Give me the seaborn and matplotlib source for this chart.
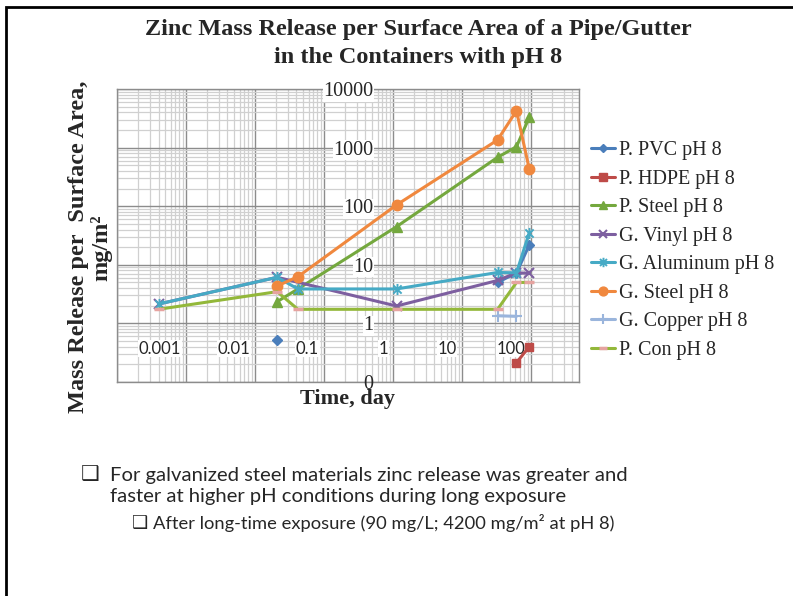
import numpy as np
import pandas as pd
import matplotlib
matplotlib.use("Agg")
import matplotlib.pyplot as plt
import seaborn as sns
from matplotlib.lines import Line2D
from matplotlib.patches import Rectangle
from matplotlib.path import Path
from matplotlib.ticker import FixedLocator, FixedFormatter, LogLocator, NullFormatter, NullLocator
from matplotlib.transforms import ScaledTranslation

# ---------------- data ----------------
series_names = ["P. PVC pH 8", "P. HDPE pH 8", "P. Steel pH 8", "G. Vinyl pH 8",
                "G. Aluminum pH 8", "G. Steel pH 8", "G. Copper pH 8", "P. Con pH 8"]

t_pvc = [0.021, 0.042, 33, 62, 95]
v_pvc = [0.52, None, 5.0, 7.3, 21.8]

t_hdpe = [62, 95]
v_hdpe = [0.214, 0.40]

t_psteel = [0.021, 0.042, 1.13, 33, 62, 95]
v_psteel = [2.35, 3.87, 44.7, 683, 1035, 3290]

t_vinyl = [0.0004, 0.021, 1.13, 33, 62, 95]
v_vinyl = [2.14, 6.12, 1.98, 5.4, 7.3, 7.16]

t_alum = [0.0004, 0.021, 0.042, 1.13, 33, 62, 95]
v_alum = [2.14, 6.12, 3.87, 3.87, 7.4, 7.3, 35.3]

t_gsteel = [0.021, 0.042, 1.13, 33, 62, 95]
v_gsteel = [4.35, 6.27, 105, 1350, 4260, 431]

t_copper = [33, 62]
v_copper = [1.35, 1.32]

t_pcon = [0.0004, 0.021, 0.042, 1.13, 33, 62, 95]
v_pcon = [1.74, 3.48, 1.74, 1.74, 1.74, 5.0, 5.0]

x_ticks = [0.001, 0.01, 0.1, 1, 10, 100]
x_tick_labels = ["0.001", "0.01", "0.1", "1", "10", "100"]
y_ticks = [0.1, 1, 10, 100, 1000, 10000]
y_tick_labels = ["0", "1", "10", "100", "1000", "10000"]

title_text = "Zinc Mass Release per Surface Area of a Pipe/Gutter\nin the Containers with pH 8"
x_label = "Time, day"
y_label = "Mass Release per  Surface Area,\nmg/m\u00b2"
bullet1 = "For galvanized steel materials zinc release was greater and\nfaster at higher pH conditions during long exposure"
bullet2 = "After long-time exposure (90 mg/L; 4200 mg/m\u00b2 at pH 8)"

# ---------------- style ----------------
sns.set_style("white")
plt.rcParams["font.family"] = ["Liberation Serif", "DejaVu Serif"]

star = Path([(-1, -1), (1, 1), (-1, 1), (1, -1), (0, -1.35), (0, 1.35)],
            [Path.MOVETO, Path.LINETO] * 3)

styles = {
    "P. PVC pH 8":      dict(color="#4a7ebb", marker="D", ms=5.0, mfc="#4a7ebb", mec="#4a7ebb", mew=1.0),
    "P. HDPE pH 8":     dict(color="#be4b48", marker="s", ms=6.0, mfc="#be4b48", mec="#be4b48", mew=1.0),
    "P. Steel pH 8":    dict(color="#74a83e", marker="^", ms=7.0, mfc="#74a83e", mec="#74a83e", mew=1.0),
    "G. Vinyl pH 8":    dict(color="#7d5fa0", marker="x", ms=6.5, mfc="none", mec="#7d5fa0", mew=1.5),
    "G. Aluminum pH 8": dict(color="#46aac5", marker=star, ms=8.0, mfc="none", mec="#46aac5", mew=1.4),
    "G. Steel pH 8":    dict(color="#f0883e", marker="o", ms=7.5, mfc="#f0883e", mec="#f0883e", mew=1.0),
    "G. Copper pH 8":   dict(color="#9ab5dc", marker="+", ms=8.0, mfc="none", mec="#9ab5dc", mew=1.5),
    "P. Con pH 8":      dict(color="#93b83a", marker="_", ms=6.5, mfc="none", mec="#e6a3a0", mew=2.5),
}

data = {
    "P. PVC pH 8": (t_pvc, v_pvc),
    "P. HDPE pH 8": (t_hdpe, v_hdpe),
    "P. Steel pH 8": (t_psteel, v_psteel),
    "G. Vinyl pH 8": (t_vinyl, v_vinyl),
    "G. Aluminum pH 8": (t_alum, v_alum),
    "G. Steel pH 8": (t_gsteel, v_gsteel),
    "G. Copper pH 8": (t_copper, v_copper),
    "P. Con pH 8": (t_pcon, v_pcon),
}

W, H = 793, 596
fig = plt.figure(figsize=(W / 100, H / 100), dpi=100)
fig.patch.set_facecolor("white")

L, R, T, B = 117, 579, 89, 382
rect = [L / W, 1 - B / H, (R - L) / W, (B - T) / H]

XLIM = (1e-4, 500)
YLIM = (0.1, 1e4)

# background axes: grid only
gax = fig.add_axes(rect, zorder=0)
gax.set_xscale("log")
gax.set_yscale("log")
gax.set_xlim(*XLIM)
gax.set_ylim(*YLIM)
for axis in (gax.xaxis, gax.yaxis):
    axis.set_major_locator(LogLocator(base=10, numticks=60))
    axis.set_minor_locator(LogLocator(base=10, subs=np.arange(2, 10), numticks=60))
    axis.set_major_formatter(NullFormatter())
    axis.set_minor_formatter(NullFormatter())
gax.grid(which="minor", color="#d0d0d0", lw=0.9)
gax.grid(which="major", color="#8c8c8c", lw=1.0)
gax.tick_params(which="both", length=0)
for s in gax.spines.values():
    s.set_color("#8c8c8c")
    s.set_linewidth(1.0)

# main axes: data and tick labels
ax = fig.add_axes(rect, zorder=1)
ax.patch.set_alpha(0)
ax.set_xscale("log")
ax.set_yscale("log")

for name in series_names:
    t, v = data[name]
    st = styles[name]
    df = pd.DataFrame({"t": t, "v": pd.to_numeric(pd.Series(v, dtype="float"))})
    df["seg"] = df["v"].isna().cumsum()
    df = df.dropna()
    sns.lineplot(data=df, x="t", y="v", units="seg", estimator=None, sort=False,
                 color=st["color"], lw=2.2, marker=st["marker"], markersize=st["ms"],
                 markerfacecolor=st["mfc"], markeredgecolor=st["mec"],
                 markeredgewidth=st["mew"], ax=ax, legend=False, zorder=3)

ax.set_xlim(*XLIM)
ax.set_ylim(*YLIM)

ax.xaxis.set_major_locator(FixedLocator(x_ticks))
ax.xaxis.set_major_formatter(FixedFormatter(x_tick_labels))
ax.xaxis.set_minor_locator(NullLocator())
ax.yaxis.set_major_locator(FixedLocator(y_ticks))
ax.yaxis.set_major_formatter(FixedFormatter(y_tick_labels))
ax.yaxis.set_minor_locator(NullLocator())
ax.grid(False)

for s in ["top", "right"]:
    ax.spines[s].set_visible(False)
ax.spines["left"].set_position(("data", 1))
ax.spines["bottom"].set_position(("data", 1))
ax.spines["left"].set_color("none")
ax.spines["bottom"].set_color("none")

ax.tick_params(which="both", length=0)
ax.tick_params(axis="y", pad=14, labelsize=14.5)
ax.tick_params(axis="x", pad=12.5, labelsize=12, labelfontfamily="Lato")

ax.set_xlabel(x_label, fontsize=16, fontweight="bold", va="center")
ax.xaxis.set_label_coords(0.5, -0.058)
ax.set_ylabel(y_label, fontsize=17.5, fontweight="bold", va="center", linespacing=1.05)
ax.yaxis.set_label_coords(-0.058, 0.46)

# legend
handles = []
for name in series_names:
    st = styles[name]
    handles.append(Line2D([], [], color=st["color"], lw=2.2, marker=st["marker"],
                          markersize=st["ms"] * 0.85, markerfacecolor=st["mfc"],
                          markeredgecolor=st["mec"], markeredgewidth=st["mew"]))
fig.legend(handles, series_names, loc="upper left",
           bbox_to_anchor=(591 / W, 1 - 141 / H), frameon=False, fontsize=14.5,
           handlelength=1.2, handletextpad=0.2, labelspacing=0.47,
           borderpad=0, borderaxespad=0)

# title
fig.text(418 / W, 1 - 43.5 / H, title_text, ha="center", va="center",
         fontsize=17.5, fontweight="bold", linespacing=1.5)

# bullets
fig.text(90 / W, 1 - 474 / H, "\u2751", ha="center", va="center", fontsize=15,
         family=["DejaVu Sans"])
fig.text(110 / W, 1 - 486 / H, bullet1, ha="left", va="center", fontsize=14.6,
         family=["Lato", "DejaVu Sans"], linespacing=1.22)
fig.text(140 / W, 1 - 523 / H, "\u2751", ha="center", va="center", fontsize=13,
         family=["DejaVu Sans"])
fig.text(153 / W, 1 - 523 / H, bullet2, ha="left", va="center", fontsize=13.2,
         family=["Lato", "DejaVu Sans"])

# slide border (top and left edges)
fig.add_artist(Rectangle((6 / W, -0.2), 2.0, 1.2 - 6.7 / H, transform=fig.transFigure,
                         fill=False, ec="black", lw=2.0))

# tick labels over a white box; x labels right aligned, shifted a little left
off = ScaledTranslation(-5 / 100, 0, fig.dpi_scale_trans)
for lab in ax.get_xticklabels():
    lab.set_horizontalalignment("right")
    lab.set_transform(lab.get_transform() + off)
    lab.set_bbox(dict(facecolor="white", edgecolor="none", pad=0.5))
for lab in ax.get_yticklabels()[1:]:
    lab.set_bbox(dict(facecolor="white", edgecolor="none", pad=0.5))

fig.savefig("out.png", dpi=100)
